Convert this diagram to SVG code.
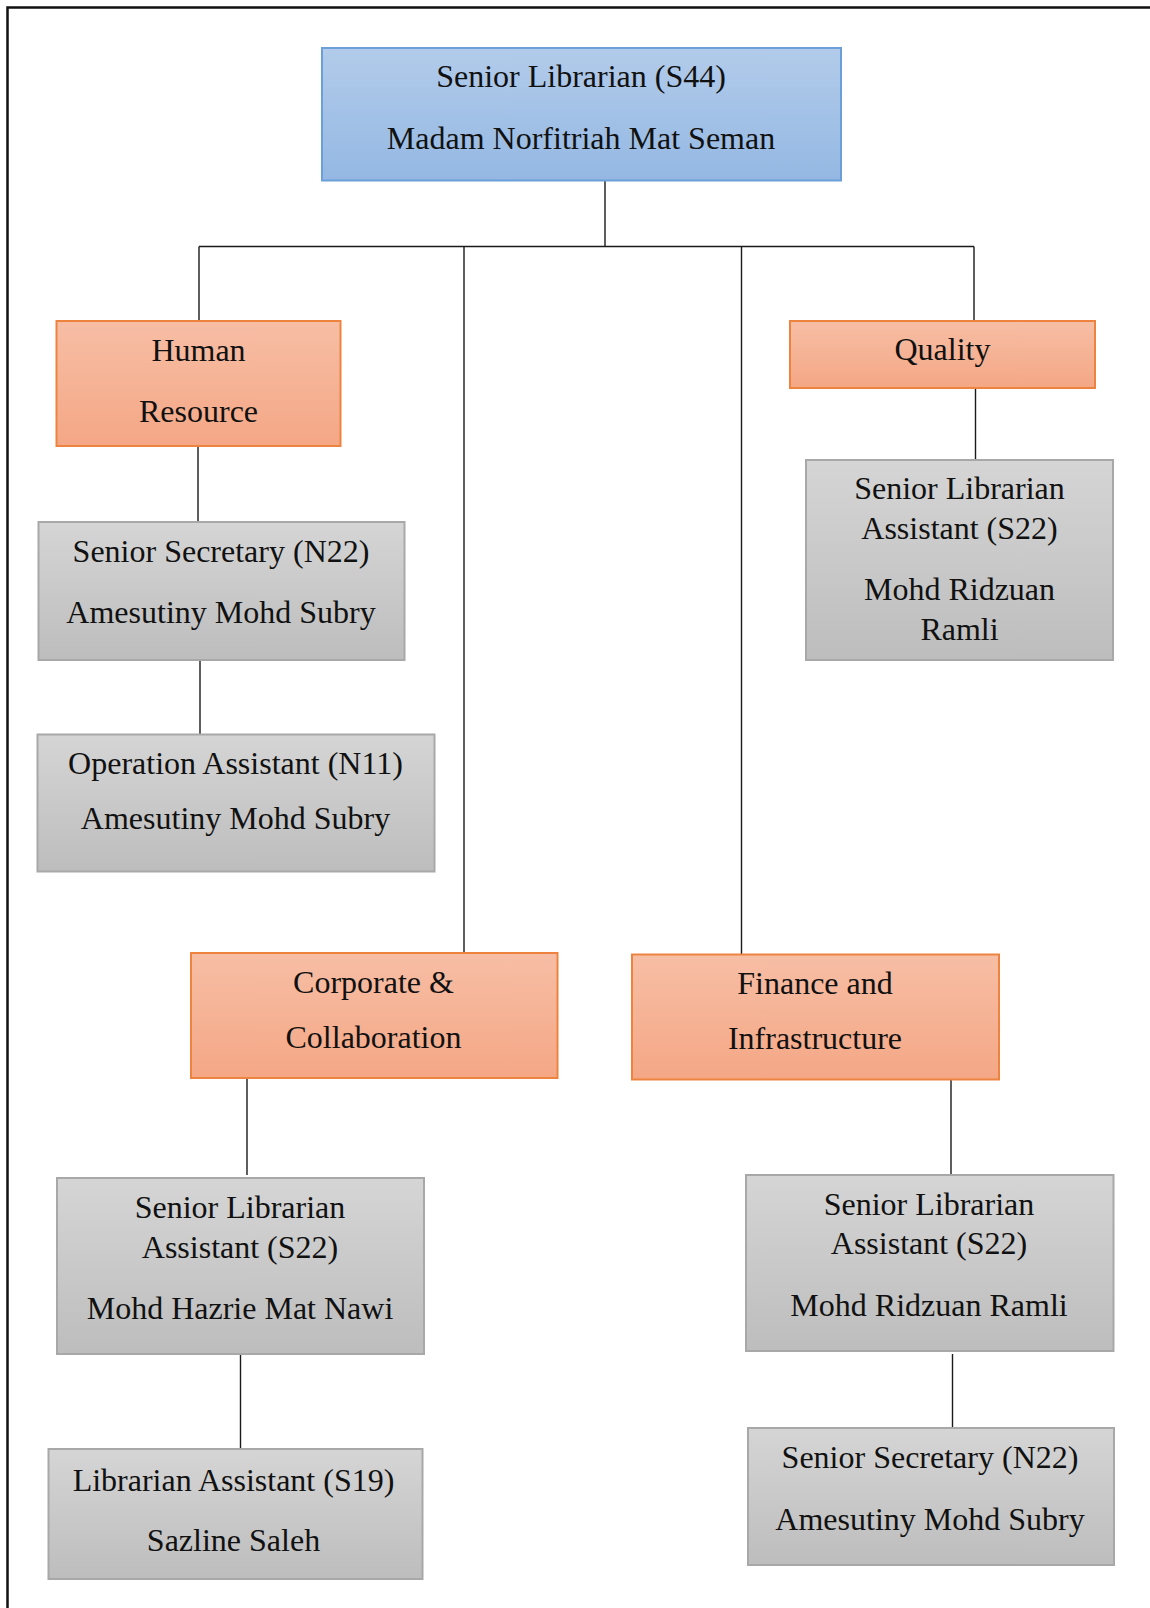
<svg xmlns="http://www.w3.org/2000/svg" width="1150" height="1608" viewBox="0 0 1150 1608">
  <defs>
    <linearGradient id="gBlue" x1="0" y1="0" x2="0" y2="1">
      <stop offset="0" stop-color="#b2cbea"/>
      <stop offset="1" stop-color="#94b8e3"/>
    </linearGradient>
    <linearGradient id="gOrange" x1="0" y1="0" x2="0" y2="1">
      <stop offset="0" stop-color="#f7bea5"/>
      <stop offset="1" stop-color="#f4a785"/>
    </linearGradient>
    <linearGradient id="gGray" x1="0" y1="0" x2="0" y2="1">
      <stop offset="0" stop-color="#d5d5d5"/>
      <stop offset="1" stop-color="#bdbdbd"/>
    </linearGradient>
    <style>
      .head { fill: url(#gBlue); stroke: #6a9fd8; stroke-width: 2; }
      .unit { fill: url(#gOrange); stroke: #ee8340; stroke-width: 2; }
      .staff { fill: url(#gGray); stroke: #a8a8a8; stroke-width: 2; }
      .lbl { font-family: "Liberation Serif", "Times New Roman", serif; font-size: 32px; fill: #111; text-anchor: middle; }
      .conn line { stroke: #1a1a1a; stroke-width: 1.4; }
      .frame { fill: none; stroke: #111; stroke-width: 2.5; }
    </style>
  </defs>

  <rect width="1150" height="1608" fill="#ffffff"/>
  <!-- page frame -->
  <rect class="frame" x="7.5" y="7.5" width="1160" height="1620"/>

  <!-- connectors -->
  <g id="connectors" class="conn">
    <line x1="605" y1="181" x2="605" y2="246.5"/>
    <line x1="199" y1="246.5" x2="974" y2="246.5"/>
    <line x1="199" y1="246.5" x2="199" y2="321"/>
    <line x1="464" y1="246.5" x2="464" y2="953"/>
    <line x1="741.5" y1="246.5" x2="741.5" y2="954.5"/>
    <line x1="974" y1="246.5" x2="974" y2="321"/>
    <line x1="198" y1="446" x2="198" y2="522"/>
    <line x1="200" y1="660" x2="200" y2="734.5"/>
    <line x1="975.5" y1="388" x2="975.5" y2="460"/>
    <line x1="247" y1="1078" x2="247" y2="1175"/>
    <line x1="951" y1="1080" x2="951" y2="1174"/>
    <line x1="240.5" y1="1354" x2="240.5" y2="1449"/>
    <line x1="952.5" y1="1354" x2="952.5" y2="1428"/>
  </g>

  <!-- head of library -->
  <g id="senior-librarian">
    <rect class="head" x="322" y="48" width="519" height="132.5"/>
    <text class="lbl" x="581" y="87">Senior Librarian (S44)</text>
    <text class="lbl" x="581" y="149">Madam Norfitriah Mat Seman</text>
  </g>

  <!-- units -->
  <g id="human-resource">
    <rect class="unit" x="56.5" y="321" width="284" height="125"/>
    <text class="lbl" x="198.5" y="361">Human</text>
    <text class="lbl" x="198.5" y="422">Resource</text>
  </g>
  <g id="quality">
    <rect class="unit" x="790" y="321" width="305" height="67"/>
    <text class="lbl" x="942.5" y="360">Quality</text>
  </g>
  <g id="corporate-collaboration">
    <rect class="unit" x="191" y="953" width="366.5" height="125"/>
    <text class="lbl" x="373.5" y="993">Corporate &amp;</text>
    <text class="lbl" x="373.5" y="1048">Collaboration</text>
  </g>
  <g id="finance-infrastructure">
    <rect class="unit" x="632" y="954.5" width="367" height="125"/>
    <text class="lbl" x="815" y="994">Finance and</text>
    <text class="lbl" x="815" y="1049">Infrastructure</text>
  </g>

  <!-- staff -->
  <g id="hr-senior-secretary">
    <rect class="staff" x="38.5" y="522" width="366" height="138"/>
    <text class="lbl" x="221" y="562">Senior Secretary (N22)</text>
    <text class="lbl" x="221" y="623">Amesutiny Mohd Subry</text>
  </g>
  <g id="hr-operation-assistant">
    <rect class="staff" x="37.5" y="734.5" width="397" height="137"/>
    <text class="lbl" x="235.5" y="774">Operation Assistant (N11)</text>
    <text class="lbl" x="235.5" y="829">Amesutiny Mohd Subry</text>
  </g>
  <g id="quality-sla">
    <rect class="staff" x="806" y="460" width="307" height="200"/>
    <text class="lbl" x="959.5" y="499">Senior Librarian</text>
    <text class="lbl" x="959.5" y="539">Assistant (S22)</text>
    <text class="lbl" x="959.5" y="600">Mohd Ridzuan</text>
    <text class="lbl" x="959.5" y="640">Ramli</text>
  </g>
  <g id="corporate-sla">
    <rect class="staff" x="57" y="1178" width="367" height="176"/>
    <text class="lbl" x="240" y="1218">Senior Librarian</text>
    <text class="lbl" x="240" y="1258">Assistant (S22)</text>
    <text class="lbl" x="240" y="1319">Mohd Hazrie Mat Nawi</text>
  </g>
  <g id="finance-sla">
    <rect class="staff" x="746" y="1175" width="367.5" height="176"/>
    <text class="lbl" x="929" y="1215">Senior Librarian</text>
    <text class="lbl" x="929" y="1254">Assistant (S22)</text>
    <text class="lbl" x="929" y="1316">Mohd Ridzuan Ramli</text>
  </g>
  <g id="corporate-librarian-assistant">
    <rect class="staff" x="48.5" y="1449" width="374" height="130"/>
    <text class="lbl" x="233.5" y="1491">Librarian Assistant (S19)</text>
    <text class="lbl" x="233.5" y="1551">Sazline Saleh</text>
  </g>
  <g id="finance-senior-secretary">
    <rect class="staff" x="748" y="1428" width="366" height="137"/>
    <text class="lbl" x="930" y="1468">Senior Secretary (N22)</text>
    <text class="lbl" x="930" y="1530">Amesutiny Mohd Subry</text>
  </g>
</svg>
